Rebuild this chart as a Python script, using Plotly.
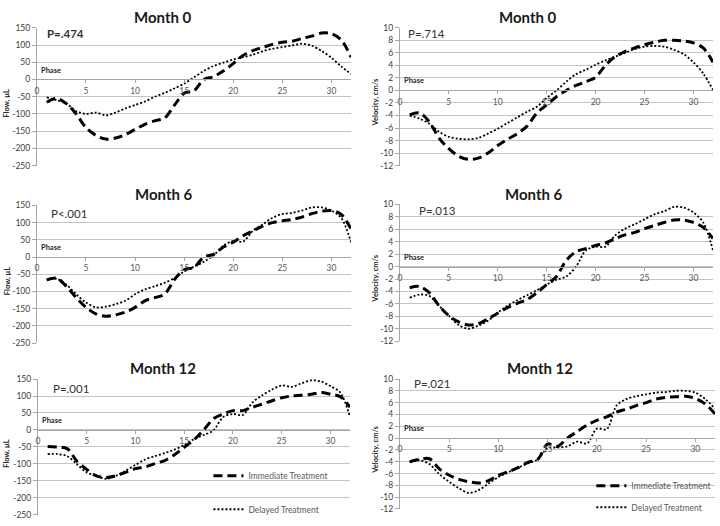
import plotly.graph_objects as go

# ---------------- data ----------------
phase = list(range(1, 33))

flow_m0_imm = [-66, -55, -70, -100, -140, -162, -173, -170, -160, -145, -130, -120, -112, -75, -40, -33,
               0, 8, 25, 46, 70, 84, 93, 102, 108, 111, 119, 126, 135, 133, 115, 65]
flow_m0_del = [-52, -60, -70, -92, -100, -96, -104, -96, -84, -74, -64, -50, -39, -26, -12, 6,
               25, 39, 49, 58, 65, 72, 82, 89, 94, 99, 104, 98, 83, 63, 38, 16]

vel_m0_imm = [-3.9, -3.6, -5.0, -7.6, -9.3, -10.5, -11.0, -10.8, -10.0, -8.8, -7.8, -6.9, -5.7, -3.6, -2.3, -1.0,
              0.0, 0.8, 1.4, 2.1, 4.0, 5.4, 6.2, 6.8, 7.3, 7.7, 8.0, 8.0, 7.9, 7.6, 6.8, 4.5]
vel_m0_del = [-4.0, -4.5, -5.3, -6.6, -7.4, -7.7, -7.8, -7.6, -6.9, -6.1, -5.2, -4.3, -3.4, -2.6, -1.2, 0.0,
              1.4, 2.6, 3.3, 4.1, 4.8, 5.4, 6.0, 6.6, 7.0, 7.1, 7.0, 6.5, 5.8, 4.5, 2.7, 0.1]

flow_m6_imm = [-66, -61, -85, -118, -146, -165, -172, -168, -160, -146, -127, -118, -108, -66, -37, -30,
               0, 8, 29, 43, 62, 76, 90, 100, 105, 109, 116, 126, 133, 135, 124, 81]
flow_m6_del = [-66, -63, -80, -108, -132, -146, -144, -137, -127, -108, -94, -85, -75, -61, -42, -28,
               -14, 5, 33, 47, 45, 76, 95, 114, 125, 128, 135, 144, 144, 135, 114, 43]

vel_m6_imm = [-3.4, -3.2, -4.2, -6.3, -7.9, -8.9, -9.4, -9.2, -8.4, -7.5, -6.6, -5.9, -5.3, -4.2, -2.9, -1.6,
              1.0, 2.4, 2.9, 3.4, 3.8, 4.5, 5.1, 5.5, 6.1, 6.6, 7.1, 7.5, 7.5, 7.1, 6.3, 4.5]
vel_m6_del = [-5.0, -4.5, -4.7, -6.3, -7.9, -9.4, -10.0, -9.5, -8.7, -7.4, -6.3, -5.4, -4.6, -3.8, -2.9, -2.1,
              -1.6, 0.0, 2.6, 3.2, 3.2, 5.0, 6.1, 6.8, 7.6, 8.4, 8.9, 9.6, 9.5, 8.7, 7.1, 2.6]

flow_m12_imm = [-49, -50, -55, -92, -116, -135, -140, -135, -125, -114, -109, -99, -90, -73, -51, -29,
                0, 33, 47, 57, 57, 67, 76, 86, 95, 100, 102, 105, 110, 105, 98, 67]
flow_m12_del = [-71, -71, -77, -101, -125, -135, -144, -135, -120, -103, -87, -77, -68, -58, -44, -27,
                -15, -1, 38, 47, 44, 81, 102, 119, 131, 127, 137, 146, 143, 129, 110, 38]

vel_m12_imm = [-4.0, -3.6, -3.5, -5.2, -6.3, -7.0, -7.4, -7.6, -7.2, -6.3, -5.7, -5.0, -4.1, -3.6, -1.0, -1.4,
               0.0, 1.1, 2.2, 3.0, 3.6, 4.4, 4.9, 5.5, 6.0, 6.6, 6.9, 7.0, 7.1, 6.7, 5.8, 4.1]
vel_m12_del = [-4.1, -3.75, -4.4, -6.1, -7.4, -8.5, -9.3, -8.8, -7.7, -6.6, -5.8, -5.0, -4.3, -3.6, -1.7, -1.6,
               -1.4, -0.6, -0.9, 1.6, 1.5, 5.5, 6.6, 7.1, 7.4, 7.7, 7.8, 8.0, 8.0, 7.7, 6.6, 5.0]

titles = ["Month 0", "Month 0", "Month 6", "Month 6", "Month 12", "Month 12"]
pvalues = ["P=.474", "P=.714", "P<.001", "P=.013", "P=.001", "P=.021"]
series_names = ["Immediate Treatment", "Delayed Treatment"]

flow_ticks = [150, 100, 50, 0, -50, -100, -150, -200, -250]
flow_labels = ["150", "100", "50", "0", "-50", "-100", "-150", "-200", "-250"]
vel_ticks = [10, 8, 6, 4, 2, 0, -2, -4, -6, -8, -10, -12]
vel_labels = ["10", "8", "6", "4", "2", "0", "-2", "-4", "-6", "-8", "-10", "-12"]
x_ticks = [0, 5, 10, 15, 20, 25, 30]
x_labels = ["0", "5", "10", "15", "20", "25", "30"]
flow_title = "Flow, µL"
vel_title = "Velocity, cm/s"
x_title = "Phase"

panel_data = [
    (flow_m0_imm, flow_m0_del, "flow"),
    (vel_m0_imm, vel_m0_del, "vel"),
    (flow_m6_imm, flow_m6_del, "flow"),
    (vel_m6_imm, vel_m6_del, "vel"),
    (flow_m12_imm, flow_m12_del, "flow"),
    (vel_m12_imm, vel_m12_del, "vel"),
]

# ---------------- layout geometry (pixels) ----------------
W, H = 720, 526
boxes = [(35, 350, 23, 164), (399, 713, 23, 164),
         (35, 350, 204, 345), (399, 713, 203, 343),
         (36, 349, 381, 520), (399, 715, 381, 514)]
title_pos = [(161, 12), (527, 12), (162, 193), (533, 193), (161, 370), (539, 370)]
p_off = [(8, 6), (6, 6), (12, 9), (17, 6), (13, 10), (12, 5)]
ytitle_x = [5, 375]

FONT = "Lato, 'Liberation Sans', sans-serif"
GRID = "#c4c4c4"
AX = "#a6a6a6"
DASH_IMM = "9px,5px"
DASH_DEL = "2px,2px"

def px_x(x):
    return x / W

def px_y(y):
    return 1 - y / H

fig = go.Figure()
layout = dict(width=W, height=H, margin=dict(l=0, r=0, t=0, b=0),
              paper_bgcolor="white", plot_bgcolor="white",
              font=dict(family=FONT, color="#404040"), annotations=[])

legend_map = {4: ("legend", "legend2"), 5: ("legend3", "legend4")}

for i, (imm, dele, kind) in enumerate(panel_data):
    n = "" if i == 0 else str(i + 1)
    x0, x1, y0, y1 = boxes[i]
    ydom = [px_y(y1), px_y(y0)]
    xdom = [px_x(x0), px_x(x1)]
    if kind == "flow":
        yr = [-250, 150]
        tv, tt = flow_ticks, flow_labels
        ytitle = flow_title
    else:
        yr = [-12, 10]
        tv, tt = vel_ticks, vel_labels
        ytitle = vel_title
    zero_frac = (0 - yr[0]) / (yr[1] - yr[0])
    xpos = ydom[0] + zero_frac * (ydom[1] - ydom[0])
    pad = (yr[1] - yr[0]) * 0.002

    layout["xaxis" + n] = dict(domain=xdom, range=[0, 32], anchor="free", position=xpos,
                               tickvals=x_ticks, ticktext=x_labels, showgrid=False, zeroline=False,
                               showline=True, linecolor=AX, linewidth=1, ticks="outside",
                               ticklen=3, tickcolor=AX, tickfont=dict(size=8.5, color="#595959"),
                               fixedrange=True)
    layout["yaxis" + n] = dict(domain=ydom, range=[yr[0] - pad, yr[1] + pad], anchor="x" + n,
                               tickvals=tv, ticktext=tt, showgrid=True, gridcolor=GRID, gridwidth=1,
                               zeroline=False, showline=True, linecolor=AX, linewidth=1,
                               ticks="outside", ticklen=4, tickcolor=AX,
                               tickfont=dict(size=8.5, color="#404040"), fixedrange=True)

    leg = legend_map.get(i)
    fig.add_trace(go.Scatter(x=phase, y=imm, mode="lines", name=series_names[0],
                             xaxis="x" + n, yaxis="y" + n,
                             line=dict(color="black", width=3, dash=DASH_IMM, shape="spline", smoothing=0.9),
                             showlegend=leg is not None, legend=leg[0] if leg else "legend"))
    fig.add_trace(go.Scatter(x=phase, y=dele, mode="lines", name=series_names[1],
                             xaxis="x" + n, yaxis="y" + n,
                             line=dict(color="black", width=1.8, dash=DASH_DEL, shape="spline", smoothing=0.9),
                             showlegend=leg is not None, legend=leg[1] if leg else "legend"))

    # title
    tx, ty = title_pos[i]
    layout["annotations"].append(dict(text="<b>" + titles[i] + "</b>", x=px_x(tx), y=px_y(ty),
                                      xref="paper", yref="paper", showarrow=False,
                                      xanchor="center", yanchor="middle",
                                      font=dict(size=15, color="#1a1a1a", family=FONT)))
    # p value
    ox, oy = p_off[i]
    ptxt = "<b>" + pvalues[i] + "</b>" if i == 0 else pvalues[i]
    layout["annotations"].append(dict(text=ptxt, x=px_x(x0 + ox), y=px_y(y0 + oy),
                                      xref="paper", yref="paper", showarrow=False,
                                      xanchor="left", yanchor="middle",
                                      font=dict(size=11.5, color="#333333", family=FONT)))
    # phase label
    layout["annotations"].append(dict(text="<b>" + x_title + "</b>", x=0, y=0,
                                      xref="x" + n, yref="y" + n, showarrow=False,
                                      xanchor="left", yanchor="bottom", xshift=2, yshift=3,
                                      font=dict(size=7.5, color="#262626", family=FONT)))
    # y axis title
    layout["annotations"].append(dict(text="<b>" + ytitle + "</b>", x=px_x(ytitle_x[i % 2]),
                                      y=px_y((y0 + y1) / 2 + 6),
                                      xref="paper", yref="paper", showarrow=False, textangle=-90,
                                      xanchor="center", yanchor="middle",
                                      font=dict(size=7.5, color="#262626", family=FONT)))

leg_common = dict(xanchor="left", yanchor="middle", bgcolor="rgba(0,0,0,0)", borderwidth=0,
                  font=dict(size=8.5, color="#595959", family=FONT), itemwidth=30,
                  itemclick=False, itemdoubleclick=False)
layout["legend"] = dict(x=px_x(207), y=px_y(480), **leg_common)
layout["legend2"] = dict(x=px_x(207), y=px_y(514), **leg_common)
layout["legend3"] = dict(x=px_x(591), y=px_y(490), **leg_common)
layout["legend4"] = dict(x=px_x(591), y=px_y(512), **leg_common)

fig.update_layout(**layout)
fig.write_html("out.html")
